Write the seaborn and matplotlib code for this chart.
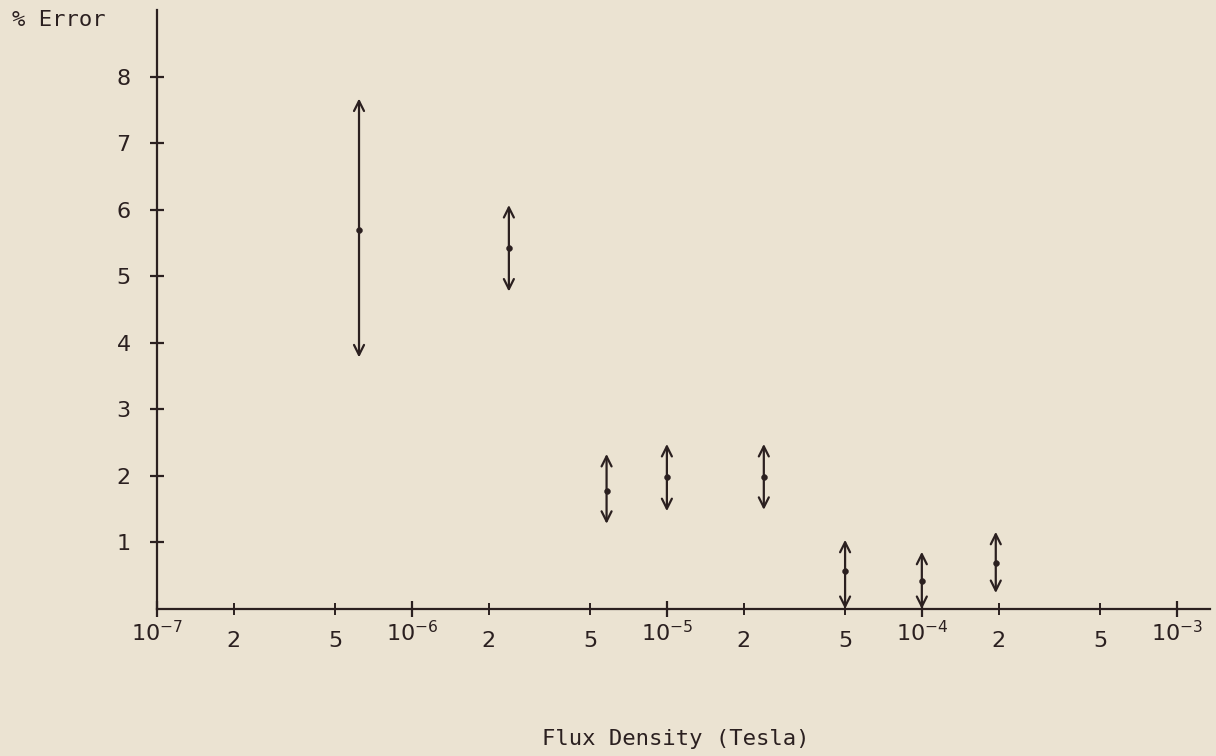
import numpy as np
import pandas as pd
import matplotlib
matplotlib.use("Agg")
import matplotlib.pyplot as plt
import seaborn as sns

# values
flux = [6.2e-7, 2.4e-6, 5.8e-6, 1.0e-5, 2.4e-5, 5.0e-5, 1.0e-4, 1.95e-4]
err_mid = [5.69, 5.42, 1.77, 1.98, 1.98, 0.57, 0.42, 0.69]
err_hi = [7.67, 6.07, 2.33, 2.48, 2.48, 1.04, 0.86, 1.16]
err_lo = [3.78, 4.77, 1.28, 1.47, 1.49, 0.0, 0.0, 0.24]

major_ticks = [1e-7, 1e-6, 1e-5, 1e-4, 1e-3]
major_labels = [r'$10^{-7}$', r'$10^{-6}$', r'$10^{-5}$', r'$10^{-4}$', r'$10^{-3}$']
minor_ticks = [2e-7, 5e-7, 2e-6, 5e-6, 2e-5, 5e-5, 2e-4, 5e-4]
minor_labels = ['2', '5', '2', '5', '2', '5', '2', '5']
y_ticks = [1, 2, 3, 4, 5, 6, 7, 8]

df = pd.DataFrame({'flux': flux, 'err': err_mid, 'hi': err_hi, 'lo': err_lo})

bg = '#ebe3d2'
ink = '#2b2020'

sns.set_theme(style='ticks')
plt.rcParams['font.family'] = ['DejaVu Sans Mono', 'DejaVu Sans']
plt.rcParams['mathtext.fontset'] = 'dejavusans'

fig = plt.figure(figsize=(12.16, 7.56), dpi=100, facecolor=bg)
ax = fig.add_axes([157/1216, 1 - 609/756, 1053/1216, 599/756])
ax.set_facecolor(bg)

# arrows for each error range
for _, r in df.iterrows():
    ax.annotate('', xy=(r['flux'], r['hi']), xytext=(r['flux'], r['lo']),
                arrowprops=dict(arrowstyle='<->', color=ink, lw=1.6,
                                mutation_scale=18, shrinkA=0, shrinkB=0))

sns.scatterplot(data=df, x='flux', y='err', ax=ax, color=ink, s=18,
                edgecolor=ink, zorder=5, legend=False)

ax.set_xscale('log')
ax.set_xlim(1e-7, 1.35e-3)
ax.set_ylim(0, 9)

ax.set_xticks(major_ticks)
ax.set_xticklabels(major_labels)
ax.set_xticks(minor_ticks, minor=True)
ax.set_xticklabels(minor_labels, minor=True)
ax.set_yticks(y_ticks)
ax.set_yticklabels([str(v) for v in y_ticks])

ax.tick_params(axis='x', which='major', direction='inout', length=12, width=1.6,
               color=ink, labelcolor=ink, labelsize=16, pad=2)
ax.tick_params(axis='x', which='minor', direction='inout', length=8, width=1.4,
               color=ink, labelcolor=ink, labelsize=16, pad=12)
ax.tick_params(axis='y', which='major', direction='inout', length=10, width=1.6,
               color=ink, labelcolor=ink, labelsize=16, pad=14)
ax.tick_params(axis='y', which='minor', left=False)
for lab in ax.get_xticklabels(which='both') + ax.get_yticklabels():
    lab.set_family('DejaVu Sans')

for side in ['top', 'right']:
    ax.spines[side].set_visible(False)
for side in ['left', 'bottom']:
    ax.spines[side].set_color(ink)
    ax.spines[side].set_linewidth(1.6)

ax.set_xlabel('Flux Density (Tesla)', fontsize=16, color=ink, va='center')
ax.xaxis.set_label_coords(0.493, -0.217)
ax.set_ylabel('% Error', fontsize=16, color=ink, rotation=0, ha='left', va='center')
ax.yaxis.set_label_coords(-0.138, 0.983)

fig.savefig('out.png', dpi=100, facecolor=bg)
